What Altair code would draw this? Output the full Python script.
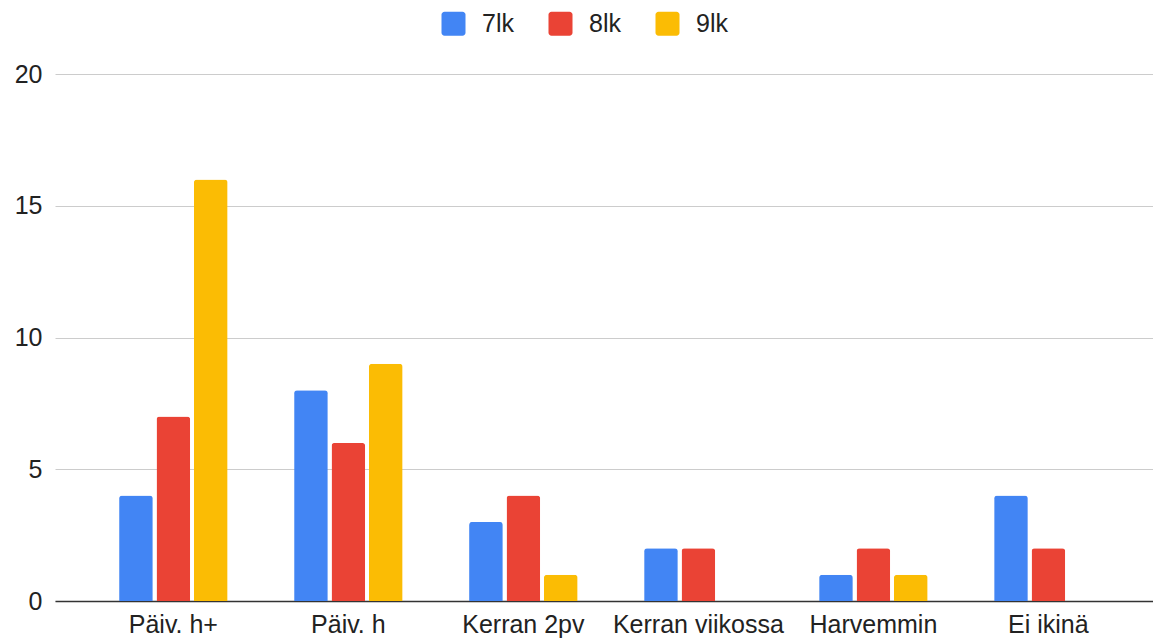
import altair as alt
import pandas as pd

categories = ["Päiv. h+", "Päiv. h", "Kerran 2pv", "Kerran viikossa", "Harvemmin", "Ei ikinä"]
series = ["7lk", "8lk", "9lk"]
values_7lk = [4, 8, 3, 2, 1, 4]
values_8lk = [7, 6, 4, 2, 2, 2]
values_9lk = [16, 9, 1, 0, 1, 0]
colors = ["#4285F4", "#EA4335", "#FBBC04"]
y_ticks = [0, 5, 10, 15, 20]

rows = []
for s, vals in zip(series, [values_7lk, values_8lk, values_9lk]):
    for c, v in zip(categories, vals):
        rows.append({"category": c, "series": s, "value": v})
df = pd.DataFrame(rows)

FONT = "Liberation Sans"
TEXT = "#222222"
ROUNDED_SQUARE = (
    "M-1,-0.75A0.25,0.25 0 0 1 -0.75,-1L0.75,-1A0.25,0.25 0 0 1 1,-0.75"
    "L1,0.75A0.25,0.25 0 0 1 0.75,1L-0.75,1A0.25,0.25 0 0 1 -1,0.75Z"
)

chart = (
    alt.Chart(df)
    .transform_filter("datum.value > 0")
    .mark_bar(cornerRadiusTopLeft=3, cornerRadiusTopRight=3)
    .encode(
        x=alt.X(
            "category:N",
            sort=categories,
            scale=alt.Scale(paddingInner=0.38, paddingOuter=0.327, align=0.56),
            axis=alt.Axis(
                title=None, labelAngle=0, labelFontSize=25, labelColor=TEXT, labelFont=FONT,
                labelPadding=11, ticks=False, tickSize=0, domainColor="#333333", domainWidth=1.5,
                grid=False,
            ),
        ),
        xOffset=alt.XOffset("series:N", sort=series, scale=alt.Scale(domain=series, paddingInner=0.1, paddingOuter=0)),
        y=alt.Y(
            "value:Q",
            scale=alt.Scale(domain=[0, 20], nice=False),
            axis=alt.Axis(
                title=None, values=y_ticks, labelFontSize=25, labelColor=TEXT, labelFont=FONT,
                labelPadding=13, ticks=False, tickSize=0, domain=False, gridColor="#cccccc", gridWidth=1,
            ),
        ),
        color=alt.Color(
            "series:N",
            scale=alt.Scale(domain=series, range=colors),
            legend=alt.Legend(
                title=None, orient="none", legendX=386, legendY=-63, direction="horizontal", columns=3,
                symbolType=ROUNDED_SQUARE, symbolSize=576, symbolStrokeWidth=0, labelFontSize=25,
                labelFont=FONT, labelColor=TEXT, labelOffset=16, columnPadding=34, padding=0,
            ),
        ),
    )
    .properties(
        width=1098, height=527, autosize="none",
        padding={"left": 47, "top": 66, "right": 0, "bottom": 40},
        background="white",
    )
    .configure_view(stroke=None)
)

chart.save("out.html", embed_options={"renderer": "svg", "actions": False})
